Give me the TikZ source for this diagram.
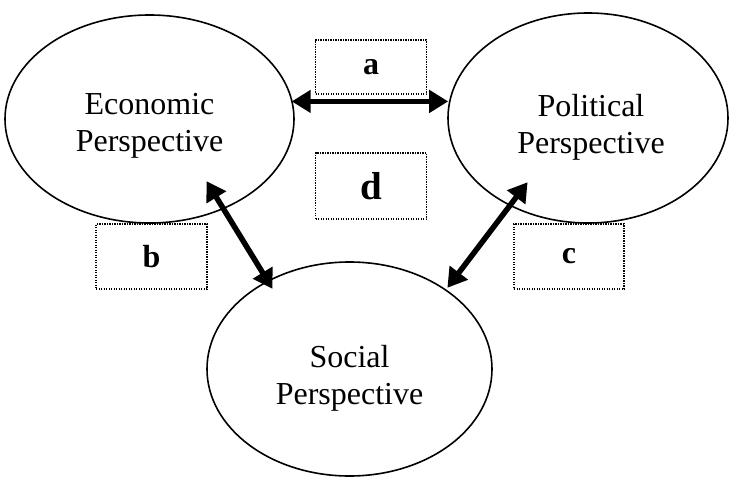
\documentclass[tikz,border=0pt]{standalone}
\usepackage{fontspec}
\setmainfont{Liberation Serif}
\usetikzlibrary{arrows.meta, shapes.geometric}

\tikzset{
  persp/.style={draw, ellipse, line width=1.6pt, inner sep=0pt},
  persptext/.style={align=center, inner sep=0pt, font=\fontsize{32}{37}\selectfont},
  markbox/.style={draw, dash pattern=on 1.3pt off 1.2pt, line width=1.3pt, minimum width=111pt,
    minimum height=65pt, inner sep=0pt, font=\fontsize{32}{33}\selectfont\bfseries},
  link/.style={{Triangle[length=19pt,width=22pt]}-{Triangle[length=19pt,width=22pt]},
    line width=5.5pt, shorten <=-1pt, shorten >=-1pt}
}

\begin{document}
\begin{tikzpicture}[x=1pt, y=-1pt]
  \useasboundingbox (0,0) rectangle (729,479);
  \node[persp, minimum width=289pt, minimum height=208pt] (econ) at (149.5,119) {};
  \node[persp, minimum width=280pt, minimum height=210pt] (pol) at (588,118) {};
  \node[persp, minimum width=285pt, minimum height=214pt] (soc) at (349.5,369) {};
  \node[persptext] (econtxt) at ([yshift=-7pt]econ.center) {Economic\\Perspective};
  \node[persptext] (poltxt) at ([yshift=-9pt, xshift=3pt]pol.center) {Political\\Perspective};
  \node[persptext] (soctxt) at ([yshift=-9pt]soc.center) {Social\\Perspective};
  \node[markbox, minimum height=54pt] (a) at (371,67) {a};
  \node[markbox, minimum height=66pt] (d) at (371,186) {\fontsize{39}{39}\selectfont d};
  \node[markbox] (b) at (151.5,256.5) {b};
  \node[markbox, minimum width=110pt] (c) at (569,256.5) {c};
  \coordinate (eb) at (207,182);
  \coordinate (sb) at (272,288);
  \coordinate (pc) at (527,183);
  \coordinate (sc) at (448,287);
  \draw[link] (econ.7.5) -- (econ.7.5 -| pol.west);
  \draw[link] (eb) -- (sb);
  \draw[link] (pc) -- (sc);
\end{tikzpicture}
\end{document}
